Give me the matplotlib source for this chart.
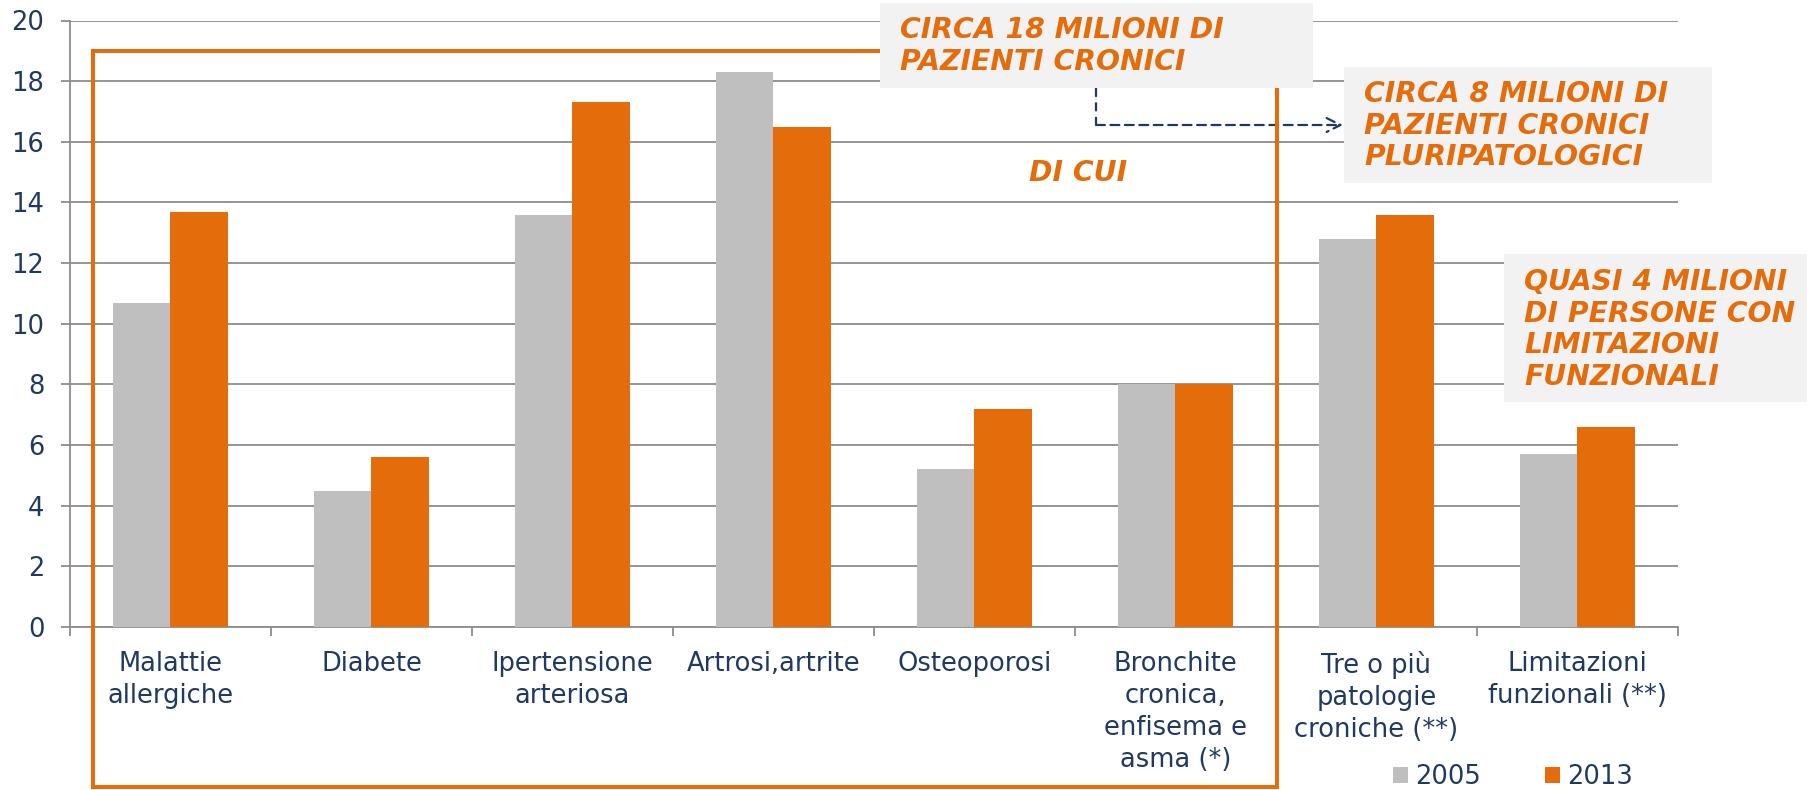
import matplotlib
matplotlib.use("Agg")
import matplotlib.pyplot as plt
import numpy as np
from matplotlib.patches import Rectangle
from matplotlib.lines import Line2D

# ---- data ----
categories = ["Malattie\nallergiche", "Diabete", "Ipertensione\narteriosa",
              "Artrosi,artrite", "Osteoporosi",
              "Bronchite\ncronica,\nenfisema e\nasma (*)",
              "Tre o più\npatologie\ncroniche (**)", "Limitazioni\nfunzionali (**)"]
series_names = ["2005", "2013"]
values_2005 = [10.7, 4.5, 13.6, 18.3, 5.2, 8.0, 12.8, 5.7]
values_2013 = [13.7, 5.6, 17.3, 16.5, 7.2, 8.0, 13.6, 6.6]
y_ticks = [0, 2, 4, 6, 8, 10, 12, 14, 16, 18, 20]

box1_text = "CIRCA 18 MILIONI DI\nPAZIENTI CRONICI"
box2_text = "CIRCA 8 MILIONI DI\nPAZIENTI CRONICI\nPLURIPATOLOGICI"
box3_text = "QUASI 4 MILIONI\nDI PERSONE CON\nLIMITAZIONI\nFUNZIONALI"
mid_text = "DI CUI"

# ---- style ----
W, H = 1808, 790
DPI = 100
GRAY = "#BFBFBF"
ORANGE = "#E46C0A"
NAVY = "#1F3A60"
GRID = "#8C8C8C"
BOXFILL = "#F2F2F2"
FS = 18.5
AFS = 20.3

plt.rcParams['font.family'] = ['DejaVu Sans']

fig = plt.figure(figsize=(W / DPI, H / DPI), dpi=DPI)
fig.patch.set_facecolor("white")


def fx(x):
    return x / W


def fy(y):
    return 1 - y / H


ax = fig.add_axes([fx(70), fy(627), fx(1678) - fx(70), fy(20.5) - fy(627)])

n = len(categories)
x = np.arange(n)
bw = 0.285
b1 = ax.bar(x - bw / 2, values_2005, bw, color=GRAY, label=series_names[0], zorder=3)
b2 = ax.bar(x + bw / 2, values_2013, bw, color=ORANGE, label=series_names[1], zorder=3)

ax.set_xlim(-0.5, n - 0.5)
ax.set_ylim(0, 20)
ax.set_yticks(y_ticks)
ax.yaxis.grid(True, color=GRID, linewidth=1.3, zorder=0)
ax.set_axisbelow(True)

for s in ["top", "right"]:
    ax.spines[s].set_visible(False)
for s in ["left", "bottom"]:
    ax.spines[s].set_color(GRID)
    ax.spines[s].set_linewidth(1.3)

ax.set_xticks(x)
ax.set_xticklabels(categories, linespacing=1.3)
ax.set_xticks(np.arange(n + 1) - 0.5, minor=True)
ax.tick_params(axis="x", which="major", length=0, pad=17, labelsize=FS, labelcolor=NAVY)
ax.tick_params(axis="x", which="minor", length=6.5, width=1.3, color=GRID, direction="out")
ax.tick_params(axis="y", length=6.5, width=1.3, color=GRID, pad=12, labelsize=FS, labelcolor=NAVY)

# orange frame
fig.add_artist(Rectangle((fx(93), fy(787)), fx(1277) - fx(93), fy(50.5) - fy(787),
                         transform=fig.transFigure, fill=False, edgecolor=ORANGE,
                         linewidth=2.9, zorder=2))

# annotation boxes
def add_box(x0, y0, x1, y1):
    fig.add_artist(Rectangle((fx(x0), fy(y1)), fx(x1) - fx(x0), fy(y0) - fy(y1),
                             transform=fig.transFigure, facecolor=BOXFILL,
                             edgecolor="none", zorder=3))

add_box(880, 3, 1313, 88)
add_box(1344, 67, 1712, 183)
add_box(1504, 254, 1808, 402)

tkw = dict(color=ORANGE, fontsize=AFS, fontweight="bold", fontstyle="italic",
           ha="left", va="center", linespacing=1.17, zorder=5)
fig.text(fx(900), fy(46), box1_text, **tkw)
fig.text(fx(1364), fy(125.5), box2_text, **tkw)
fig.text(fx(1524), fy(329.5), box3_text, **tkw)
fig.text(fx(1078), fy(173), mid_text, **dict(tkw, ha="center"))

# dashed connector arrow
fig.add_artist(Line2D([fx(1096), fx(1096)], [fy(88), fy(125)], transform=fig.transFigure,
                      color=NAVY, linewidth=1.6, linestyle=(0, (4, 2.5)), zorder=4))
ax.annotate("", xy=(fx(1343), fy(125)), xytext=(fx(1096), fy(125)),
            xycoords=fig.transFigure, textcoords=fig.transFigure,
            arrowprops=dict(arrowstyle="->,head_length=1.0,head_width=0.5", color=NAVY,
                            linewidth=1.6, linestyle=(0, (4, 2.5)),
                            shrinkA=0, shrinkB=0), zorder=4)

# legend
leg = fig.legend(handles=[b1, b2], loc="center left",
                 bbox_to_anchor=(fx(1393), fy(777)), ncol=2, frameon=False,
                 fontsize=FS, handlelength=0.58, handleheight=0.58,
                 handletextpad=0.27, columnspacing=2.5, borderpad=0, borderaxespad=0)
for t in leg.get_texts():
    t.set_color(NAVY)

fig.savefig("out.png", dpi=DPI)
